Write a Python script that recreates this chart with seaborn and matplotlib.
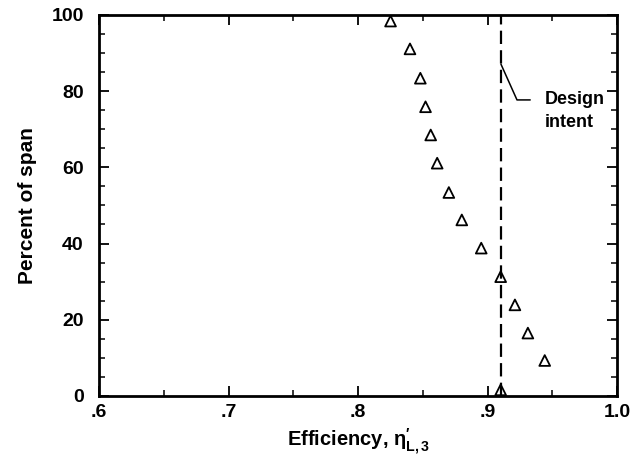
import matplotlib
matplotlib.use("Agg")
import matplotlib.pyplot as plt
import seaborn as sns
import pandas as pd
from matplotlib.ticker import MultipleLocator

efficiency = [0.825, 0.840, 0.848, 0.852, 0.856, 0.861, 0.870, 0.880, 0.895, 0.910, 0.921, 0.931, 0.944, 0.910]
percent_span = [98.4, 91.1, 83.4, 75.9, 68.5, 61.1, 53.4, 46.2, 38.8, 31.3, 23.9, 16.5, 9.3, 1.6]
design_intent = 0.910
xticks = [0.6, 0.7, 0.8, 0.9, 1.0]
xticklabels = [".6", ".7", ".8", ".9", "1.0"]
yticks = [0, 20, 40, 60, 80, 100]

sns.set_theme(style="ticks")
plt.rcParams['font.family'] = ['Liberation Sans', 'DejaVu Sans']
plt.rcParams['font.weight'] = 'bold'
plt.rcParams['mathtext.fontset'] = 'custom'
plt.rcParams['mathtext.rm'] = 'Liberation Sans:bold'
plt.rcParams['mathtext.it'] = 'Liberation Sans:italic:bold'
plt.rcParams['mathtext.bf'] = 'Liberation Sans:bold'
for k in ['text.color', 'axes.labelcolor', 'xtick.color', 'ytick.color', 'xtick.labelcolor', 'ytick.labelcolor']:
    plt.rcParams[k] = 'black'

df = pd.DataFrame({"eff": efficiency, "pct": percent_span})

fig = plt.figure(figsize=(6.43, 4.68), dpi=100)
ax = fig.add_axes([0.154, 0.154, 0.806, 0.814])

sns.scatterplot(data=df, x="eff", y="pct", ax=ax, marker="^", s=60,
                facecolor="none", edgecolor="black", linewidth=1.3, zorder=3)

ax.axvline(design_intent, color="black", linestyle=(0, (6, 2.8)), linewidth=1.6, zorder=2)

# leader line for annotation
ax.plot([0.9102, 0.9226, 0.9328], [87.1, 77.7, 77.7], color="black", linewidth=1.1)
ax.text(0.9444, 77.7, "Design", ha="left", va="center", fontsize=13, fontweight="bold")
ax.text(0.9444, 71.9, "intent", ha="left", va="center", fontsize=13, fontweight="bold")

ax.set_xlim(0.6, 1.0)
ax.set_ylim(0, 100)
ax.set_xticks(xticks)
ax.set_xticklabels(xticklabels)
ax.set_yticks(yticks)
ax.xaxis.set_minor_locator(MultipleLocator(0.05))
ax.yaxis.set_minor_locator(MultipleLocator(5))
ax.tick_params(which="both", direction="in", top=True, right=True, color="black")
ax.tick_params(which="major", length=7, width=1.3, labelsize=14)
ax.tick_params(axis="x", which="major", pad=6)
ax.tick_params(axis="y", which="major", pad=11)
ax.tick_params(which="minor", length=4, width=1.1)
for lab in ax.get_xticklabels() + ax.get_yticklabels():
    lab.set_fontweight("bold")

for sp in ax.spines.values():
    sp.set_linewidth(2.0)
    sp.set_color("black")

ax.set_xlabel(r"Efficiency, $\mathrm{\eta}^{\prime}_{\mathrm{L,3}}$", fontsize=14.5, fontweight="bold", labelpad=4)
ax.set_ylabel("Percent of span", fontsize=15, fontweight="bold", labelpad=10)

fig.savefig("out.png", dpi=100)
